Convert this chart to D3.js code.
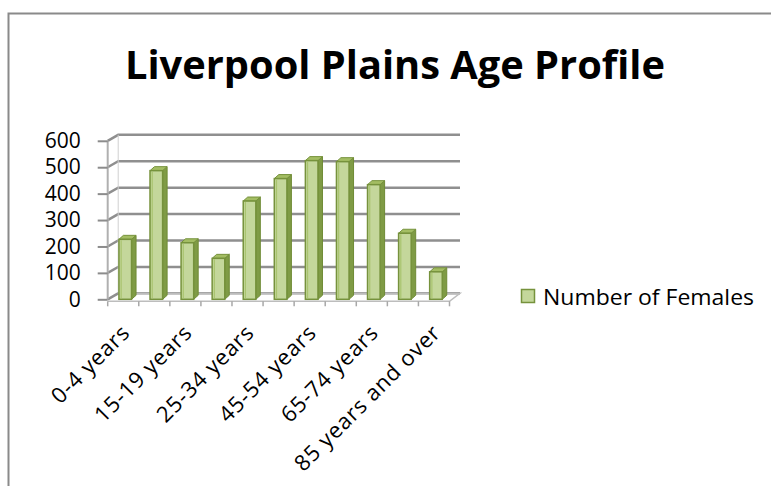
<!DOCTYPE html>
<html>
<head>
<meta charset="utf-8">
<script src="https://cdn.jsdelivr.net/npm/d3@7"></script>
<style>
  body { margin: 0; background: #fff; }
  text { font-family: "Open Sans", "Noto Sans", sans-serif; fill: #000; }
</style>
</head>
<body>
<div id="chart"></div>
<script>
// chart data
const categories = ["0-4 years", "5-14 years", "15-19 years", "20-24 years", "25-34 years",
  "35-44 years", "45-54 years", "55-64 years", "65-74 years", "75-84 years", "85 years and over"];
const females = [227, 487, 214, 155, 372, 457, 525, 521, 434, 250, 104];
const yTicks = [0, 100, 200, 300, 400, 500, 600];
const seriesName = "Number of Females";
const chartTitle = "Liverpool Plains Age Profile";

const W = 771, H = 486;

const svg = d3.select("#chart")
  .append("svg")
  .attr("width", W)
  .attr("height", H);

// outer chart border (runs off the right / bottom of the picture)
svg.append("rect")
  .attr("x", 8.5).attr("y", 13.5)
  .attr("width", 800).attr("height", 500)
  .attr("fill", "none")
  .attr("stroke", "#8a8a8a")
  .attr("stroke-width", 2);

// title
svg.append("text")
  .attr("x", 395).attr("y", 79)
  .attr("text-anchor", "middle")
  .attr("textLength", 540)
  .attr("lengthAdjust", "spacingAndGlyphs")
  .style("font-size", "40px")
  .style("font-weight", "bold")
  .text(chartTitle);

// scales (front plane of the 3d box)
const x = d3.scaleBand()
  .domain(categories)
  .range([107.7, 449.5]);

const y = d3.scaleLinear()
  .domain([0, 600])
  .range([299.3, 140.8]);

// depth of the box and of a column
const depthX = 10.5, depthY = -6;
const barDX = 4.5, barDY = -4;
const barW = 12.6;

const x0 = x.range()[0], x1 = x.range()[1];

// back wall + side wall gridlines
const grid = svg.append("g");
yTicks.forEach(v => {
  grid.append("path")
    .attr("d", `M${x0},${y(v)} L${x0 + depthX},${y(v) + depthY} L${x1 + depthX},${y(v) + depthY}`)
    .attr("fill", "none")
    .attr("stroke", "#8f8f8f")
    .attr("stroke-width", 2.5);
});

// side wall edges
grid.append("line")
  .attr("x1", x0).attr("x2", x0)
  .attr("y1", y(600)).attr("y2", y(0))
  .attr("stroke", "#b0b0b0").attr("stroke-width", 2);
grid.append("line")
  .attr("x1", x0 + depthX).attr("x2", x0 + depthX)
  .attr("y1", y(600) + depthY).attr("y2", y(0) + depthY)
  .attr("stroke", "#d0d0d0").attr("stroke-width", 1);

// floor
grid.append("path")
  .attr("d", `M${x0},${y(0) + 2} L${x1},${y(0) + 2} L${x1 + depthX},${y(0) + depthY} L${x0 + depthX},${y(0) + depthY}`)
  .attr("fill", "none")
  .attr("stroke", "#bdbdbd")
  .attr("stroke-width", 1.5);

// category ticks on floor front edge
grid.selectAll(".ctick")
  .data(categories.concat([null]))
  .enter()
  .append("line")
  .attr("x1", (d, i) => x0 + i * x.step())
  .attr("x2", (d, i) => x0 + i * x.step())
  .attr("y1", y(0) + 2)
  .attr("y2", y(0) + 7)
  .attr("stroke", "#a8a8a8")
  .attr("stroke-width", 1.5);

// y axis
const yAxis = svg.append("g")
  .attr("transform", "translate(" + x0 + ",0)")
  .call(d3.axisLeft(y).tickValues(yTicks).tickSize(10).tickPadding(17));
yAxis.select(".domain").remove();
yAxis.selectAll(".tick line").attr("stroke", "#8c8c8c").attr("stroke-width", 2);
yAxis.selectAll(".tick text")
  .style("font-size", "21px")
  .style("font-family", "'Open Sans', sans-serif")
  .attr("fill", "#000");

// columns
const bars = svg.append("g")
  .selectAll("g")
  .data(categories.map((c, i) => ({ cat: c, value: females[i] })))
  .enter()
  .append("g");

const left = d => x(d.cat) + x.bandwidth() / 2 + 2 - barW / 2;

// side face
bars.append("path")
  .attr("d", d => {
    const a = left(d) + barW, t = y(d.value), b = y(0);
    return `M${a},${t} L${a + barDX},${t + barDY} L${a + barDX},${b + barDY} L${a},${b}Z`;
  })
  .attr("fill", "#7f9b45")
  .attr("stroke", "#6f8b35")
  .attr("stroke-width", 1);

// top face
bars.append("path")
  .attr("d", d => {
    const a = left(d), t = y(d.value);
    return `M${a},${t} L${a + barDX},${t + barDY} L${a + barW + barDX},${t + barDY} L${a + barW},${t}Z`;
  })
  .attr("fill", "#a3bd63")
  .attr("stroke", "#76923c")
  .attr("stroke-width", 1);

// front face
bars.append("rect")
  .attr("x", d => left(d))
  .attr("y", d => y(d.value))
  .attr("width", barW)
  .attr("height", d => y(0) - y(d.value))
  .attr("fill", "#c4d79b")
  .attr("stroke", "#76923c")
  .attr("stroke-width", 1.5);

// inner highlight line on the front face
bars.append("line")
  .attr("x1", d => left(d) + 2.2)
  .attr("x2", d => left(d) + 2.2)
  .attr("y1", d => y(d.value) + 1)
  .attr("y2", y(0) - 1)
  .attr("stroke", "#a9c46f")
  .attr("stroke-width", 1.2);

// category labels (every other one, like the original)
svg.append("g")
  .selectAll("text")
  .data(categories.filter((c, i) => i % 2 === 0))
  .enter()
  .append("text")
  .attr("text-anchor", "end")
  .attr("transform", d => "translate(" + (x(d) + x.bandwidth() / 2 + 8) + ",334) rotate(-45)")
  .style("font-size", "22px")
  .style("letter-spacing", "0.8px")
  .text(d => d);

// legend
svg.append("rect")
  .attr("x", 521.5).attr("y", 289.5)
  .attr("width", 13).attr("height", 13)
  .attr("fill", "#c4d79b")
  .attr("stroke", "#76923c")
  .attr("stroke-width", 1.5);

svg.append("text")
  .attr("x", 543).attr("y", 305)
  .attr("textLength", 211)
  .attr("lengthAdjust", "spacingAndGlyphs")
  .style("font-size", "21px")
  .text(seriesName);
</script>
</body>
</html>
